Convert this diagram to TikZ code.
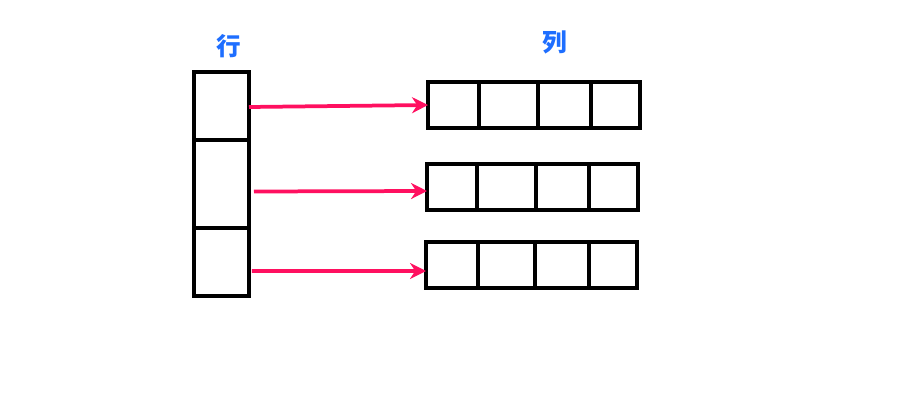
\documentclass[tikz,border=0pt]{standalone}
\usepackage{fontspec}
\newfontfamily\cjk{Noto Sans CJK SC}
\usetikzlibrary{arrows.meta, positioning}
\definecolor{labelblue}{RGB}{30,110,255}
\definecolor{arrowred}{RGB}{255,16,96}
\tikzset{
    cell/.style={draw=black, line width=0.08cm, fill=white, inner sep=0pt, outer sep=0pt},
    title/.style={text=labelblue, font=\cjk\bfseries\fontsize{14}{16}\selectfont, inner sep=1pt},
    ptr/.style={-{Stealth[length=0.32cm, width=0.32cm]}, line width=0.075cm, arrowred}
}
\begin{document}
\begin{tikzpicture}[x=0.02cm, y=-0.02cm]
        \useasboundingbox (0,0) rectangle (909,419);
        % row column
        \node [cell, minimum width=1.1cm, minimum height=1.36cm] (c1) at (221.5,106) {};
        \node [cell, minimum width=1.1cm, minimum height=1.76cm] (c2) at (221.5,184) {};
        \node [cell, minimum width=1.1cm, minimum height=1.36cm] (c3) at (221.5,262) {};
        \node [title] (hang) at (229,46) {行};
        % column arrays
        \node [cell, minimum width=1.02cm, minimum height=0.92cm] (r1a) at (453.5,105) {};
        \node [cell, minimum width=1.18cm, minimum height=0.92cm] (r1b) at (508.5,105) {};
        \node [cell, minimum width=1.06cm, minimum height=0.92cm] (r1c) at (564.5,105) {};
        \node [cell, minimum width=0.98cm, minimum height=0.92cm] (r1d) at (615.5,105) {};
        \node [cell, minimum width=1.00cm, minimum height=0.92cm] (r2a) at (452,187) {};
        \node [cell, minimum width=1.18cm, minimum height=0.92cm] (r2b) at (506.5,187) {};
        \node [cell, minimum width=1.06cm, minimum height=0.92cm] (r2c) at (562.5,187) {};
        \node [cell, minimum width=0.98cm, minimum height=0.92cm] (r2d) at (613.5,187) {};
        \node [cell, minimum width=1.04cm, minimum height=0.92cm] (r3a) at (452,265) {};
        \node [cell, minimum width=1.14cm, minimum height=0.92cm] (r3b) at (506.5,265) {};
        \node [cell, minimum width=1.08cm, minimum height=0.92cm] (r3c) at (562,265) {};
        \node [cell, minimum width=0.96cm, minimum height=0.92cm] (r3d) at (613,265) {};
        \node [title] (lie) at (555,42) {列};
        % pointers
        \draw [ptr] ([yshift=-0.02cm]c1.east) -- (r1a.west);
        \draw [ptr] ([xshift=0.1cm, yshift=-0.15cm]c2.east) -- ([yshift=-0.08cm]r2a.west);
        \draw [ptr] ([xshift=0.06cm, yshift=-0.18cm]c3.east) -- ([yshift=-0.12cm]r3a.west);
    \end{tikzpicture}
\end{document}
